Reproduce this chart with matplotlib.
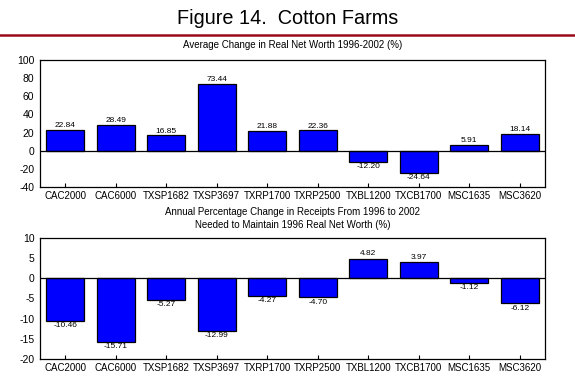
import matplotlib
matplotlib.use("Agg")
import matplotlib.pyplot as plt
from matplotlib.lines import Line2D

plt.rcParams['font.family'] = ['Liberation Sans', 'DejaVu Sans']
plt.rcParams['axes.unicode_minus'] = False

categories = ["CAC2000", "CAC6000", "TXSP1682", "TXSP3697", "TXRP1700",
              "TXRP2500", "TXBL1200", "TXCB1700", "MSC1635", "MSC3620"]
net_worth = [22.84, 28.49, 16.85, 73.44, 21.88, 22.36, -12.20, -24.64, 5.91, 18.14]
receipts = [-10.46, -15.71, -5.27, -12.99, -4.27, -4.70, 4.82, 3.97, -1.12, -6.12]
top_yticks = [-40, -20, 0, 20, 40, 60, 80, 100]
bot_yticks = [-20, -15, -10, -5, 0, 5, 10]

fig = plt.figure(figsize=(5.75, 3.9), dpi=100)
fig.patch.set_facecolor('white')

fig.text(0.5, 1 - 18/390, "Figure 14.  Cotton Farms", ha='center', va='center', fontsize=14.3)
fig.add_artist(Line2D([0, 1], [1 - 34.5/390, 1 - 34.5/390], color='#9b0a1a', lw=1.8))

def draw(ax, vals, yticks, title, off, pad):
    x = list(range(len(vals)))
    ax.bar(x, vals, width=0.75, color='#0000ff', edgecolor='black', linewidth=0.9, zorder=2)
    ax.axhline(0, color='black', lw=0.9, zorder=3)
    ax.set_xlim(-0.5, len(vals) - 0.5)
    ax.set_ylim(yticks[0], yticks[-1])
    ax.set_yticks(yticks)
    ax.set_xticks(x)
    ax.set_xticklabels(categories, fontsize=7)
    ax.tick_params(axis='x', direction='in', length=3, width=0.8, pad=3)
    ax.tick_params(axis='y', length=0, pad=4, labelsize=7.5)
    for s in ax.spines.values():
        s.set_linewidth(0.9)
    for xi, v in zip(x, vals):
        if v >= 0:
            ax.text(xi, v + off, f"{v:.2f}", ha='center', va='bottom', fontsize=6)
        else:
            ax.text(xi, v - off, f"{v:.2f}", ha='center', va='top', fontsize=6)
    ax.set_title(title, fontsize=7, pad=pad, linespacing=1.4)

ax1 = fig.add_axes([40/575, 1 - 187/390, 505/575, 127/390])
draw(ax1, net_worth, top_yticks, "Average Change in Real Net Worth 1996-2002 (%)", 1.0, 9)

ax2 = fig.add_axes([40/575, 1 - 359/390, 505/575, 121/390])
draw(ax2, receipts, bot_yticks,
     "Annual Percentage Change in Receipts From 1996 to 2002\nNeeded to Maintain 1996 Real Net Worth (%)", 0.4, 7)

fig.savefig("out.png", dpi=100)
